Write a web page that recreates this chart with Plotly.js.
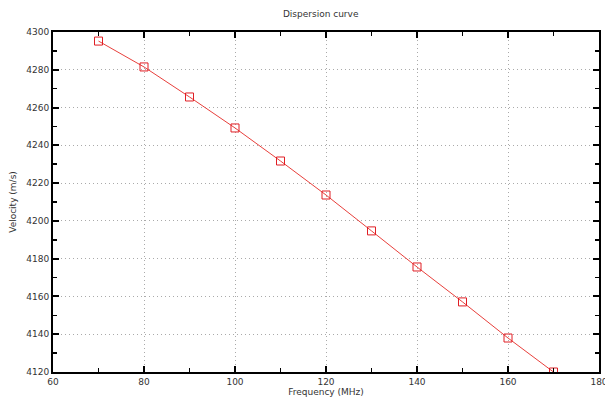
<!DOCTYPE html>
<html>
<head>
<script src="https://cdn.plot.ly/plotly-3.0.1.min.js"></script>
<style>html,body{margin:0;padding:0;background:#fff;}</style>
</head>
<body>
<div id="chart" style="width:605px;height:400px;"></div>
<script>
const frequency = [70, 80, 90, 100, 110, 120, 130, 140, 150, 160, 170];
const velocity = [4295.2, 4281.5, 4265.6, 4249.2, 4231.7, 4213.7, 4194.7, 4175.6, 4157.1, 4138.0, 4120.0];
const xTicks = [60, 80, 100, 120, 140, 160, 180];
const yTicks = [4120, 4140, 4160, 4180, 4200, 4220, 4240, 4260, 4280, 4300];

const font = {family: 'DejaVu Sans, Verdana, sans-serif', size: 9, color: '#333'};
const axisCommon = {
  showline: true, linecolor: '#000', linewidth: 2, mirror: 'ticks',
  ticks: 'inside', ticklen: 6, tickwidth: 2, tickcolor: '#000',
  showgrid: true, gridcolor: '#aaa', griddash: '1px,3px', gridwidth: 1,
  zeroline: false, tickfont: font, ticklabeloverflow: 'allow'
};
const trace = {
  x: frequency, y: velocity, type: 'scatter', mode: 'lines+markers',
  line: {color: '#e8403c', width: 1},
  marker: {symbol: 'square-open', size: 8, color: '#e01e24', line: {width: 1}}
};
const layout = {
  width: 605, height: 400,
  margin: {l: 53, r: 6, t: 32, b: 28},
  paper_bgcolor: '#fff', plot_bgcolor: '#fff',
  showlegend: false,
  font: font,
  title: {text: 'Dispersion curve', font: {family: font.family, size: 9, color: '#333'}, x: 0.53, xanchor: 'center', y: 0.965, yanchor: 'middle'},
  xaxis: Object.assign({}, axisCommon, {
    range: [60, 180], tickvals: xTicks, ticktext: xTicks.map(String),
    minor: {dtick: 10, tick0: 60, ticks: 'inside', ticklen: 4, tickwidth: 1.5, tickcolor: '#000', showgrid: false},
    title: {text: 'Frequency (MHz)', font: font, standoff: 2}
  }),
  yaxis: Object.assign({}, axisCommon, {
    range: [4120, 4300], tickvals: yTicks, ticktext: yTicks.map(String),
    minor: {dtick: 10, tick0: 4120, ticks: 'inside', ticklen: 4, tickwidth: 1.5, tickcolor: '#000', showgrid: false},
    title: {text: 'Velocity (m/s)', font: font, standoff: 8}
  })
};
Plotly.newPlot('chart', [trace], layout, {displayModeBar: false, staticPlot: true});
</script>
</body>
</html>
